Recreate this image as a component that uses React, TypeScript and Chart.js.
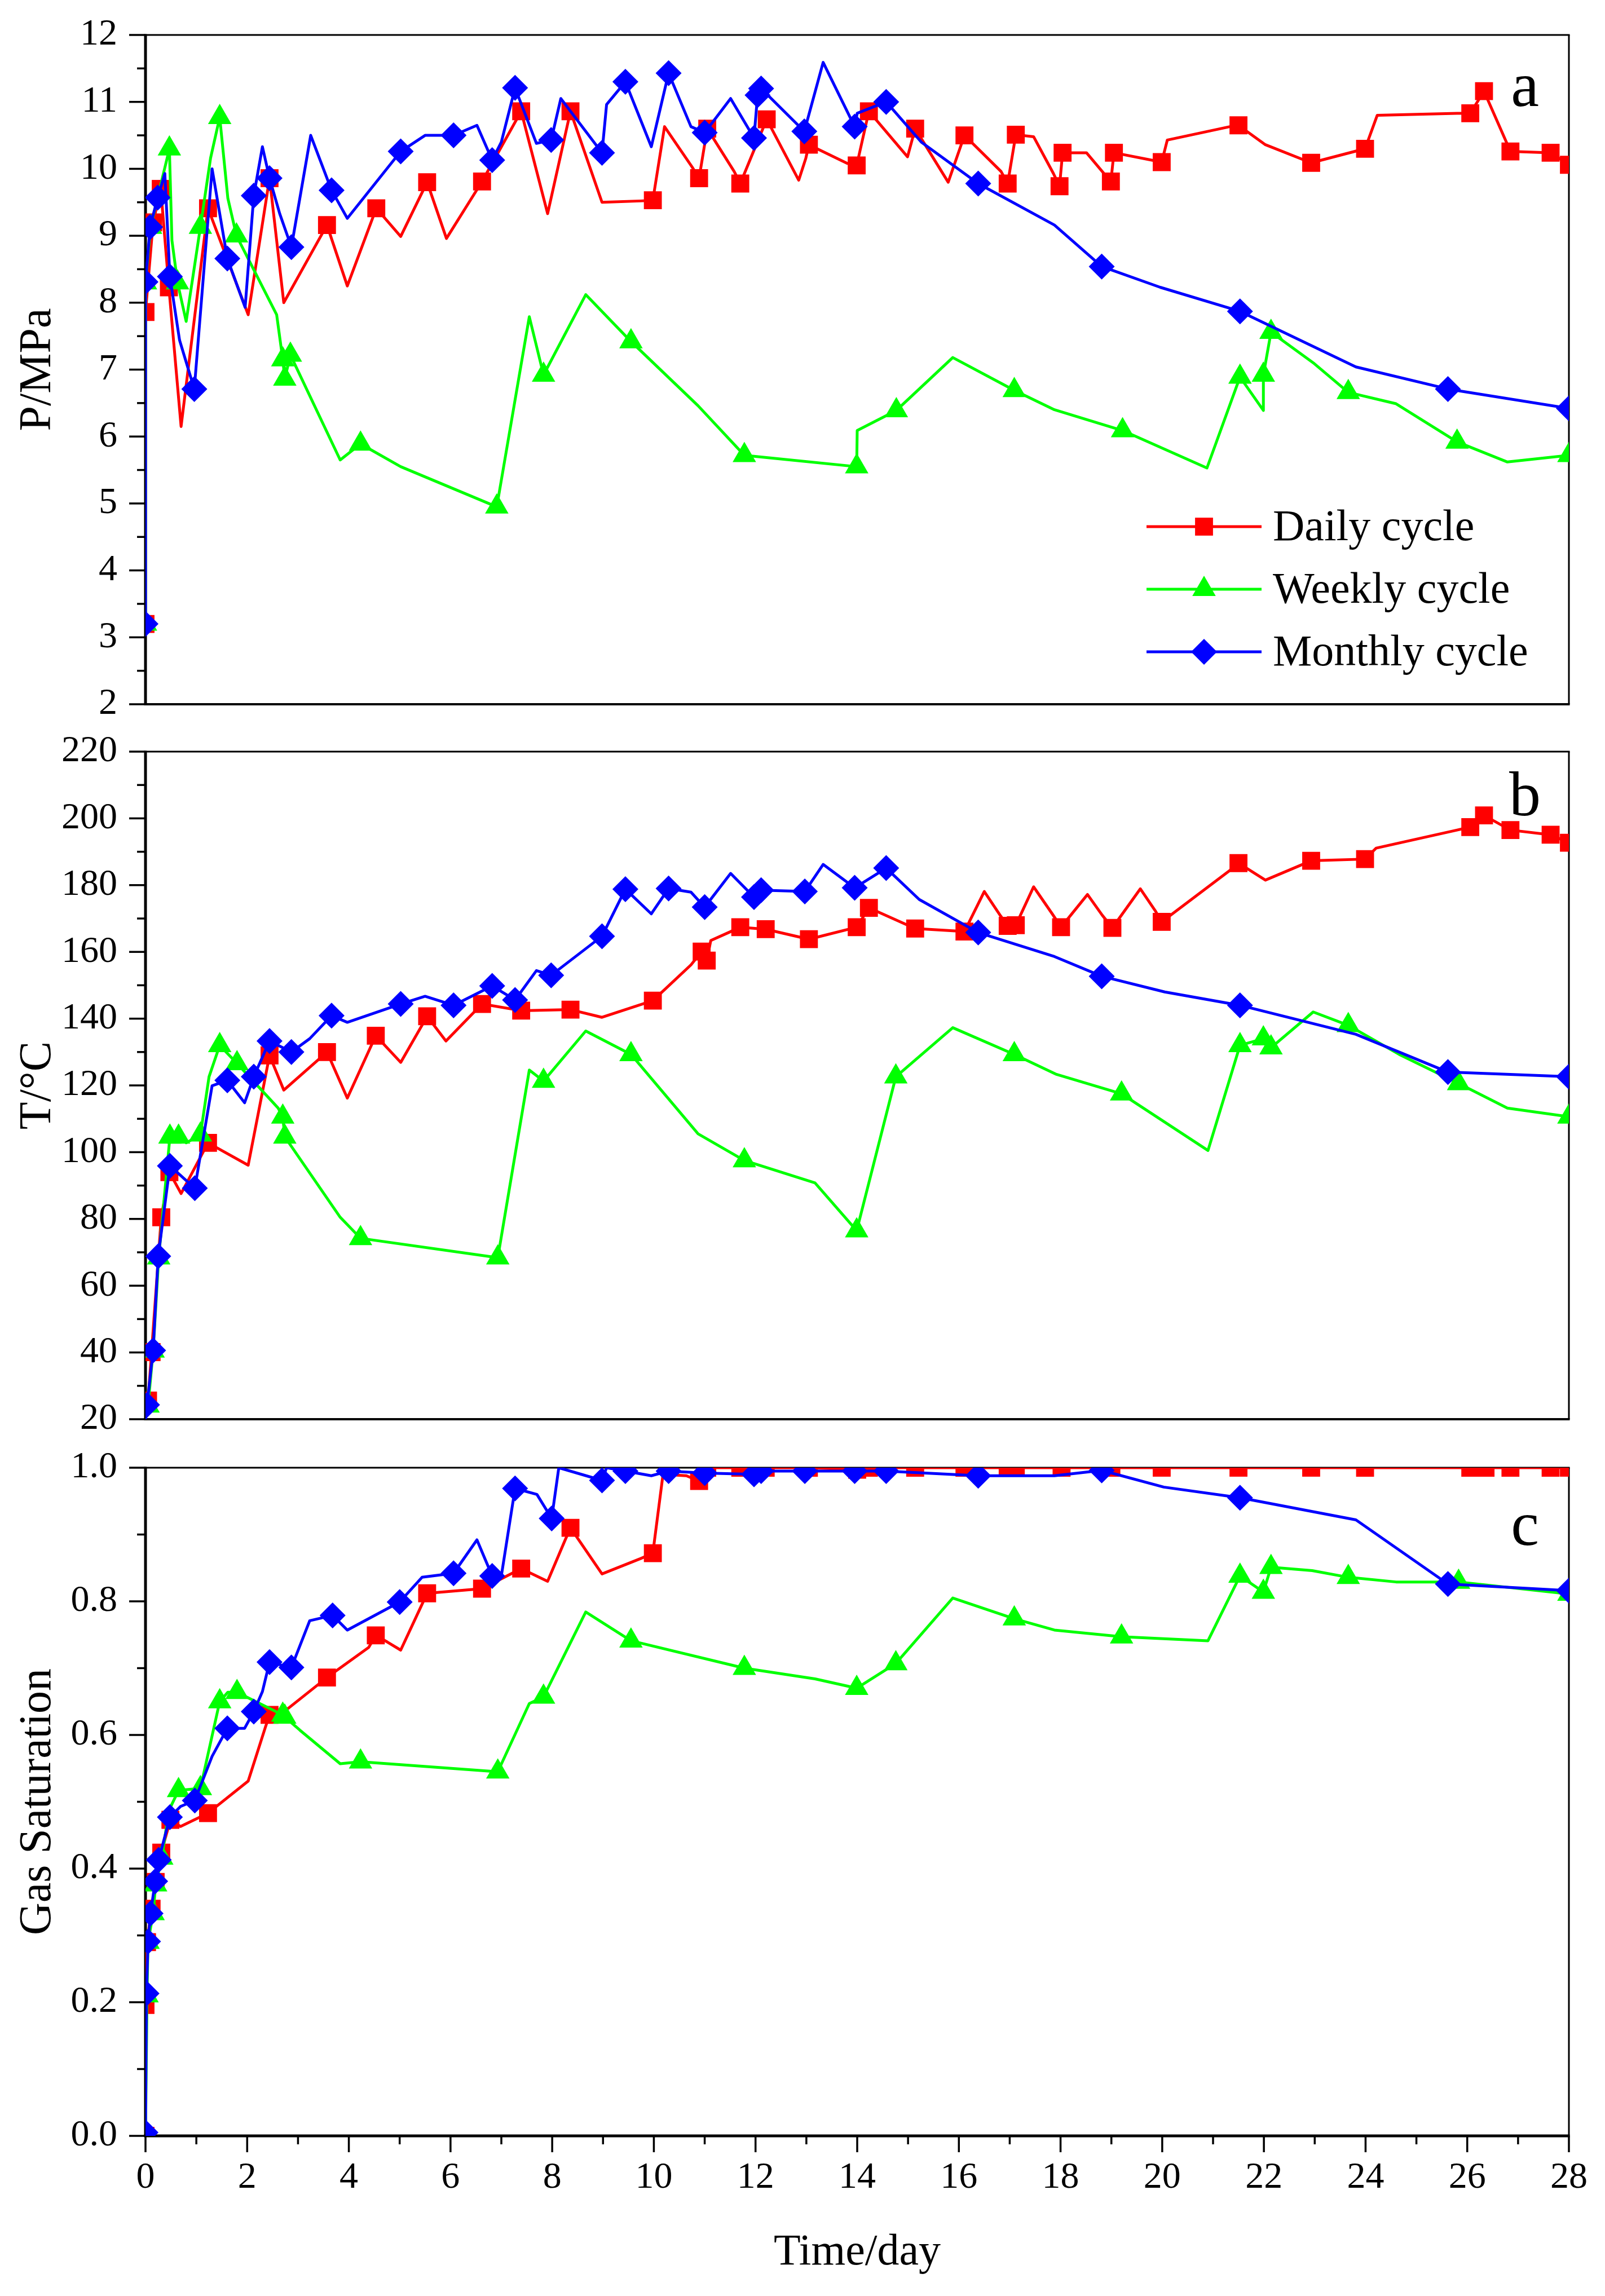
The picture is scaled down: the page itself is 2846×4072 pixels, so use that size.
import React, { useEffect, useRef } from 'react';
import Chart from 'chart.js/auto';

type Pt = [number, number];

// ---- axis ticks ----
const dayTicks = [0, 2, 4, 6, 8, 10, 12, 14, 16, 18, 20, 22, 24, 26, 28];
const pressureTicks = [2, 3, 4, 5, 6, 7, 8, 9, 10, 11, 12];
const tempTicks = [20, 40, 60, 80, 100, 120, 140, 160, 180, 200, 220];
const saturationTicks = [0, 0.2, 0.4, 0.6, 0.8, 1.0];

const seriesNames = ['Daily cycle', 'Weekly cycle', 'Monthly cycle'];

// ---- panel a: pressure (MPa) ----
const pDailyLine: Pt[] = [[0, 3.2], [0, 7.86], [0.15, 9.2], [0.3, 9.7], [0.46, 8.23], [0.7, 6.15], [1.23, 9.41], [2.02, 7.82], [2.44, 9.86], [2.72, 8.0], [3.57, 9.16], [3.97, 8.25], [4.54, 9.41], [5.02, 8.99], [5.54, 9.8], [5.92, 8.96], [6.62, 9.81], [7.39, 10.86], [7.91, 9.33], [8.36, 10.86], [8.98, 9.5], [9.74, 9.52], [9.98, 9.53], [10.21, 10.63], [10.75, 10.03], [10.89, 9.86], [11.05, 10.6], [11.58, 9.96], [11.7, 9.78], [12.22, 10.74], [12.85, 9.83], [12.99, 10.16], [13.05, 10.36], [13.81, 10.08], [13.99, 10.05], [14.23, 10.86], [14.99, 10.18], [15.14, 10.6], [15.79, 9.8], [16.11, 10.5], [16.83, 9.96], [16.96, 9.78], [17.12, 10.51], [17.47, 10.48], [17.86, 9.93], [17.98, 9.74], [18.04, 10.24], [18.51, 10.24], [18.82, 9.96], [18.99, 9.81], [19.05, 10.24], [19.99, 10.1], [20.1, 10.43], [21.33, 10.63], [21.5, 10.65], [22.03, 10.36], [22.93, 10.09], [23.99, 10.3], [24.23, 10.8], [25.8, 10.83], [26.06, 10.83], [26.33, 11.16], [26.85, 10.26], [27.64, 10.24], [28, 10.06]];
const pDailyMarks: Pt[] = [[0, 3.2], [0, 7.86], [0.15, 9.2], [0.3, 9.7], [0.46, 8.23], [1.23, 9.41], [2.44, 9.86], [3.57, 9.16], [4.54, 9.41], [5.54, 9.8], [6.62, 9.81], [7.39, 10.86], [8.36, 10.86], [9.98, 9.53], [10.89, 9.86], [11.05, 10.6], [11.7, 9.78], [12.22, 10.74], [13.05, 10.36], [13.99, 10.05], [14.23, 10.86], [15.14, 10.6], [16.11, 10.5], [16.96, 9.78], [17.12, 10.51], [17.98, 9.74], [18.04, 10.24], [18.99, 9.81], [19.05, 10.24], [19.99, 10.1], [21.5, 10.65], [22.93, 10.09], [23.99, 10.3], [26.06, 10.83], [26.33, 11.16], [26.85, 10.26], [27.64, 10.24], [28, 10.06]];

const pWeeklyLine: Pt[] = [[0, 3.2], [0, 8.3], [0.1, 9.13], [0.47, 10.3], [0.52, 8.93], [0.63, 8.3], [0.8, 7.72], [1.08, 9.13], [1.28, 10.16], [1.46, 10.77], [1.62, 9.56], [1.79, 9.0], [2.58, 7.82], [2.7, 7.15], [2.74, 6.86], [2.85, 7.22], [3.83, 5.65], [4.23, 5.89], [5.02, 5.55], [6.91, 4.95], [7.55, 7.79], [7.83, 6.92], [8.66, 8.12], [9.55, 7.42], [10.87, 6.46], [11.78, 5.72], [13.99, 5.55], [14.0, 6.09], [14.77, 6.39], [15.88, 7.18], [17.09, 6.69], [17.88, 6.4], [19.22, 6.09], [20.88, 5.53], [21.53, 6.89], [21.99, 6.39], [21.99, 6.92], [22.14, 7.56], [22.99, 7.09], [23.66, 6.66], [24.6, 6.49], [25.8, 5.92], [26.79, 5.62], [28, 5.72]];
const pWeeklyMarks: Pt[] = [[0, 3.2], [0, 8.3], [0.1, 9.13], [0.47, 10.3], [0.63, 8.3], [1.08, 9.13], [1.46, 10.77], [1.79, 9.0], [2.7, 7.15], [2.74, 6.86], [2.85, 7.22], [4.23, 5.89], [6.91, 4.95], [7.83, 6.92], [9.55, 7.42], [11.78, 5.72], [13.99, 5.55], [14.77, 6.39], [17.09, 6.69], [19.22, 6.09], [21.53, 6.89], [21.99, 6.92], [22.14, 7.56], [23.66, 6.66], [25.8, 5.92], [28, 5.72]];

const pMonthlyLine: Pt[] = [[0, 3.2], [0, 8.31], [0.09, 9.13], [0.24, 9.57], [0.38, 9.93], [0.48, 8.39], [0.67, 7.44], [0.96, 6.71], [1.31, 10.0], [1.61, 8.66], [1.96, 7.93], [2.13, 9.6], [2.3, 10.33], [2.44, 9.86], [2.64, 9.33], [2.87, 8.83], [3.25, 10.5], [3.66, 9.68], [3.97, 9.26], [5.02, 10.26], [5.5, 10.5], [6.06, 10.5], [6.52, 10.65], [6.82, 10.13], [7.0, 10.4], [7.27, 11.21], [7.69, 10.38], [7.98, 10.43], [8.17, 11.05], [8.98, 10.24], [9.07, 10.96], [9.44, 11.3], [9.95, 10.33], [10.29, 11.43], [10.73, 10.63], [11.0, 10.54], [11.51, 11.05], [11.97, 10.46], [12.04, 11.1], [12.11, 11.2], [12.96, 10.56], [13.33, 11.59], [13.95, 10.63], [14.0, 10.83], [14.57, 11.0], [15.26, 10.4], [16.38, 9.78], [17.88, 9.16], [18.81, 8.54], [19.96, 8.23], [21.53, 7.87], [23.81, 7.04], [25.62, 6.71], [28, 6.42]];
const pMonthlyMarks: Pt[] = [[0, 3.2], [0, 8.31], [0.09, 9.13], [0.24, 9.57], [0.48, 8.39], [0.96, 6.71], [1.61, 8.66], [2.13, 9.6], [2.44, 9.86], [2.87, 8.83], [3.66, 9.68], [5.02, 10.26], [6.06, 10.5], [6.82, 10.13], [7.27, 11.21], [7.98, 10.43], [8.98, 10.24], [9.44, 11.3], [10.29, 11.43], [11.0, 10.54], [11.97, 10.46], [12.04, 11.1], [12.11, 11.2], [12.96, 10.56], [13.95, 10.63], [14.57, 11.0], [16.38, 9.78], [18.81, 8.54], [21.53, 7.87], [25.62, 6.71], [28, 6.42]];

// ---- panel b: temperature (°C) ----
const tDailyLine: Pt[] = [[0, 22], [0.05, 25.6], [0.12, 40.1], [0.31, 80.5], [0.47, 94], [0.7, 87.6], [1.23, 102.8], [2.02, 96.1], [2.44, 129], [2.72, 118.6], [3.57, 130], [3.97, 116.2], [4.53, 134.9], [5.02, 126.9], [5.54, 140.7], [5.91, 133.3], [6.62, 144.4], [7.39, 142.4], [8.36, 142.7], [8.98, 140.4], [9.98, 145.4], [10.73, 156.1], [10.94, 160.1], [11.04, 157.4], [11.12, 163.4], [11.47, 165.8], [11.7, 167.4], [12.2, 166.8], [13.05, 163.8], [13.99, 167.4], [14.23, 173.2], [15.14, 167], [16.11, 166.1], [16.5, 178.1], [16.82, 170.8], [16.96, 167.8], [17.12, 168], [17.47, 179.5], [17.85, 171.1], [18.01, 167.4], [18.53, 177.2], [18.82, 171], [19.02, 167.2], [19.57, 178.9], [19.86, 172.4], [19.99, 169], [21.33, 184.4], [21.5, 186.6], [22.03, 181.5], [22.93, 187.3], [23.99, 187.8], [24.21, 191.1], [25.8, 196.5], [26.06, 197.4], [26.33, 200.9], [26.85, 196.5], [27.64, 195.1], [28, 192.7]];
const tDailyMarks: Pt[] = [[0.05, 25.6], [0.12, 40.1], [0.31, 80.5], [0.47, 94], [1.23, 102.8], [2.44, 129], [3.57, 130], [4.53, 134.9], [5.54, 140.7], [6.62, 144.4], [7.39, 142.4], [8.36, 142.7], [9.98, 145.4], [10.94, 160.1], [11.04, 157.4], [11.7, 167.4], [12.2, 166.8], [13.05, 163.8], [13.99, 167.4], [14.23, 173.2], [15.14, 167], [16.11, 166.1], [16.96, 167.8], [17.12, 168], [18.01, 167.4], [19.02, 167.2], [19.99, 169], [21.5, 186.6], [22.93, 187.3], [23.99, 187.8], [26.06, 197.4], [26.33, 200.9], [26.85, 196.5], [27.64, 195.1], [28, 192.7]];

const tWeeklyLine: Pt[] = [[0, 22], [0.05, 24], [0.15, 40.5], [0.26, 68.4], [0.48, 104.6], [0.65, 104.6], [0.8, 102.8], [1.08, 105.2], [1.25, 122.6], [1.46, 132], [1.8, 126.6], [2.61, 113.2], [2.7, 110.6], [2.74, 104.6], [3.83, 80.5], [4.23, 74.2], [6.93, 68.4], [7.55, 124.6], [7.83, 121.3], [8.66, 136.3], [9.55, 129.3], [10.87, 105.5], [11.78, 97.5], [13.17, 90.8], [13.99, 76.5], [14.76, 122.6], [15.88, 137.3], [17.09, 129.3], [17.92, 123.3], [19.2, 117.5], [20.9, 100.5], [21.53, 132], [21.99, 134], [22.14, 131.3], [22.97, 142], [23.66, 138], [24.66, 129.3], [25.83, 120.6], [26.79, 113.2], [28, 110.6]];
const tWeeklyMarks: Pt[] = [[0.05, 24], [0.15, 40.5], [0.26, 68.4], [0.48, 104.6], [0.65, 104.6], [1.08, 105.2], [1.46, 132], [1.8, 126.6], [2.7, 110.6], [2.74, 104.6], [4.23, 74.2], [6.93, 68.4], [7.83, 121.3], [9.55, 129.3], [11.78, 97.5], [13.99, 76.5], [14.76, 122.6], [17.09, 129.3], [19.2, 117.5], [21.53, 132], [21.99, 134], [22.14, 131.3], [23.66, 138], [25.83, 120.6], [28, 110.6]];

const tMonthlyLine: Pt[] = [[0, 20], [0.03, 24.3], [0.15, 40.6], [0.25, 68.8], [0.48, 95.9], [0.97, 89.2], [1.31, 119.9], [1.61, 121.5], [1.95, 114.8], [2.13, 122.6], [2.44, 133.3], [2.87, 130], [3.23, 134], [3.66, 140.9], [3.97, 138.9], [5.02, 144.4], [5.5, 146.7], [6.06, 144], [6.82, 149.8], [7.27, 145.6], [7.69, 154.4], [7.98, 153], [8.98, 164.7], [9.44, 178.8], [9.95, 171.4], [10.29, 179], [10.73, 177.9], [11.0, 173.4], [11.51, 183.5], [11.97, 176.4], [12.11, 178.5], [12.97, 178.1], [13.33, 186.2], [13.95, 179.2], [14.57, 185.1], [15.22, 175.7], [16.38, 165.8], [17.88, 158.6], [18.81, 152.7], [20.05, 148], [21.53, 144], [23.81, 135.3], [25.62, 124], [28, 122.6]];
const tMonthlyMarks: Pt[] = [[0.03, 24.3], [0.15, 40.6], [0.25, 68.8], [0.48, 95.9], [0.97, 89.2], [1.61, 121.5], [2.13, 122.6], [2.44, 133.3], [2.87, 130], [3.66, 140.9], [5.02, 144.4], [6.06, 144], [6.82, 149.8], [7.27, 145.6], [7.98, 153], [8.98, 164.7], [9.44, 178.8], [10.29, 179], [11.0, 173.4], [11.97, 176.4], [12.11, 178.5], [12.97, 178.1], [13.95, 179.2], [14.57, 185.1], [16.38, 165.8], [18.81, 152.7], [21.53, 144], [25.62, 124], [28, 122.6]];

// ---- panel c: gas saturation ----
const sDailyLine: Pt[] = [[0, 0], [0, 0.196], [0.03, 0.29], [0.12, 0.34], [0.2, 0.38], [0.31, 0.424], [0.49, 0.473], [0.69, 0.463], [1.23, 0.483], [2.02, 0.531], [2.36, 0.612], [2.44, 0.63], [2.81, 0.64], [3.57, 0.686], [4.39, 0.731], [4.53, 0.749], [4.76, 0.739], [5.02, 0.727], [5.43, 0.794], [5.54, 0.812], [6.62, 0.819], [7.39, 0.849], [7.91, 0.83], [8.25, 0.891], [8.36, 0.91], [8.98, 0.841], [9.74, 0.864], [9.98, 0.872], [10.18, 0.99], [10.64, 0.988], [10.89, 0.98], [11.05, 1], [11.7, 1], [12.2, 1], [13.05, 1], [14, 0.997], [14.23, 1], [15.14, 1], [16.11, 1], [16.96, 1], [17.12, 1], [18.02, 1], [19, 1], [19.99, 1], [21.5, 1], [22.93, 1], [23.99, 1], [26.06, 1], [26.36, 1], [26.85, 1], [27.64, 1], [28, 1]];
const sDailyMarks: Pt[] = [[0, 0], [0, 0.196], [0.03, 0.29], [0.12, 0.34], [0.2, 0.38], [0.31, 0.424], [0.49, 0.473], [1.23, 0.483], [2.44, 0.63], [3.57, 0.686], [4.53, 0.749], [5.54, 0.812], [6.62, 0.819], [7.39, 0.849], [8.36, 0.91], [9.98, 0.872], [10.89, 0.98], [11.05, 1], [11.7, 1], [12.2, 1], [13.05, 1], [14, 0.997], [14.23, 1], [15.14, 1], [16.11, 1], [16.96, 1], [17.12, 1], [18.02, 1], [19, 1], [19.99, 1], [21.5, 1], [22.93, 1], [23.99, 1], [26.06, 1], [26.36, 1], [26.85, 1], [27.64, 1], [28, 1]];

const sWeeklyLine: Pt[] = [[0, 0], [0.03, 0.21], [0.05, 0.29], [0.15, 0.333], [0.2, 0.376], [0.32, 0.416], [0.46, 0.487], [0.65, 0.517], [1.08, 0.52], [1.46, 0.65], [1.62, 0.664], [1.8, 0.664], [2.7, 0.63], [2.74, 0.627], [3.04, 0.607], [3.83, 0.557], [4.23, 0.56], [6.93, 0.545], [7.55, 0.647], [7.83, 0.657], [8.66, 0.784], [9.55, 0.741], [11.78, 0.7], [13.17, 0.684], [13.99, 0.67], [14.76, 0.707], [15.88, 0.805], [17.09, 0.774], [17.88, 0.757], [19.2, 0.747], [20.9, 0.741], [21.53, 0.838], [21.99, 0.814], [22.14, 0.851], [22.95, 0.846], [23.66, 0.836], [24.6, 0.829], [25.83, 0.829], [28, 0.811]];
const sWeeklyMarks: Pt[] = [[0, 0], [0.03, 0.21], [0.05, 0.29], [0.15, 0.333], [0.2, 0.376], [0.32, 0.416], [0.65, 0.517], [1.08, 0.52], [1.46, 0.65], [1.8, 0.664], [2.7, 0.63], [2.74, 0.627], [4.23, 0.56], [6.93, 0.545], [7.83, 0.657], [9.55, 0.741], [11.78, 0.7], [13.99, 0.67], [14.76, 0.707], [17.09, 0.774], [19.2, 0.747], [21.53, 0.838], [21.99, 0.814], [22.14, 0.851], [23.66, 0.836], [25.83, 0.829], [28, 0.811]];

const sMonthlyLine: Pt[] = [[0, 0.005], [0.02, 0.213], [0.05, 0.291], [0.1, 0.333], [0.19, 0.381], [0.26, 0.413], [0.48, 0.477], [0.69, 0.493], [0.97, 0.502], [1.31, 0.568], [1.61, 0.61], [1.95, 0.61], [2.13, 0.635], [2.3, 0.665], [2.44, 0.709], [2.87, 0.701], [3.23, 0.771], [3.68, 0.779], [3.97, 0.757], [5.0, 0.799], [5.44, 0.836], [6.06, 0.842], [6.52, 0.892], [6.82, 0.838], [7.0, 0.838], [7.27, 0.969], [7.7, 0.96], [7.99, 0.924], [8.13, 1], [8.98, 0.981], [9.07, 1], [9.44, 0.995], [9.95, 0.988], [10.29, 0.995], [11.0, 0.992], [11.97, 0.99], [12.11, 0.995], [12.97, 0.995], [13.95, 0.995], [14.57, 0.995], [16.38, 0.988], [17.88, 0.988], [18.81, 0.996], [20.03, 0.971], [21.53, 0.955], [23.81, 0.922], [25.62, 0.826], [28, 0.816]];
const sMonthlyMarks: Pt[] = [[0, 0.005], [0.02, 0.213], [0.05, 0.291], [0.1, 0.333], [0.19, 0.381], [0.26, 0.413], [0.48, 0.477], [0.97, 0.502], [1.61, 0.61], [2.13, 0.635], [2.44, 0.709], [2.87, 0.701], [3.68, 0.779], [5.0, 0.799], [6.06, 0.842], [6.82, 0.838], [7.27, 0.969], [7.99, 0.924], [8.98, 0.981], [9.44, 0.995], [10.29, 0.995], [11.0, 0.992], [11.97, 0.99], [12.11, 0.995], [12.97, 0.995], [13.95, 0.995], [14.57, 0.995], [16.38, 0.988], [18.81, 0.996], [21.53, 0.955], [25.62, 0.826], [28, 0.816]];

const SERIF = '"Liberation Serif", "DejaVu Serif", serif';
const COLORS = ['#ff0000', '#00ff00', '#0000ff'];
const STYLES = ['rect', 'triangle', 'rectRot'];
const RADIUS: Record<string, number> = { rect: 22.5, triangle: 24, rectRot: 23 };
const LINE_W = 5;

function drawMarker(ctx: CanvasRenderingContext2D, style: string, x: number, y: number, r: number) {
    ctx.beginPath();
    if (style === 'rect') {
        const s = r * Math.SQRT1_2;
        ctx.rect(x - s, y - s, 2 * s, 2 * s);
    } else if (style === 'triangle') {
        ctx.moveTo(x, y - r);
        ctx.lineTo(x + r * 0.866, y + r / 2);
        ctx.lineTo(x - r * 0.866, y + r / 2);
        ctx.closePath();
    } else {
        ctx.moveTo(x - r, y);
        ctx.lineTo(x, y - r);
        ctx.lineTo(x + r, y);
        ctx.lineTo(x, y + r);
        ctx.closePath();
    }
    ctx.fill();
}

interface PanelProps {
    top: number;
    height: number;
    padTop: number;
    padBottom: number;
    yTicks: number[];
    decimals: number;
    yTitle: string;
    letter: string;
    letterDrop: number;
    lines: Pt[][];
    marks: Pt[][];
    showX?: boolean;
    showLegend?: boolean;
}

const Panel: React.FC<PanelProps> = ({ top, height, padTop, padBottom, yTicks, decimals, yTitle, letter, letterDrop, lines, marks, showX = false, showLegend = false }) => {
    const canvasRef = useRef<HTMLCanvasElement | null>(null);

    useEffect(() => {
        const canvas = canvasRef.current;
        if (!canvas) return;

        const datasets: any[] = [];
        lines.forEach((line, i) => {
            const rank = lines.length - 1 - i; // monthly drawn on top
            datasets.push({
                label: seriesNames[i],
                data: line.map(([x, y]) => ({ x, y })),
                borderColor: COLORS[i],
                borderWidth: LINE_W,
                borderJoinStyle: 'round',
                pointRadius: 0,
                pointHoverRadius: 0,
                tension: 0,
                fill: false,
                clip: 0,
                order: rank * 2 + 1,
            });
            datasets.push({
                label: seriesNames[i] + ' points',
                data: marks[i].map(([x, y]) => ({ x, y })),
                showLine: false,
                pointStyle: STYLES[i],
                pointRadius: RADIUS[STYLES[i]],
                pointHoverRadius: RADIUS[STYLES[i]],
                pointBackgroundColor: COLORS[i],
                pointBorderWidth: 0,
                clip: 0,
                order: rank * 2,
            });
        });

        const frame = {
            id: 'frame',
            beforeDatasetsDraw(chart: any) {
                const { ctx, chartArea } = chart;
                const { left, right, top: t, bottom } = chartArea;
                const ys = chart.scales.y;
                const xs = chart.scales.x;
                const seg = (x1: number, y1: number, x2: number, y2: number, w: number) => {
                    ctx.lineWidth = w;
                    ctx.beginPath();
                    ctx.moveTo(x1, y1);
                    ctx.lineTo(x2, y2);
                    ctx.stroke();
                };
                ctx.save();
                ctx.strokeStyle = '#000';
                seg(left, t, right + 1.5, t, 3);
                seg(right, t, right, bottom, 3);
                seg(left - 2.5, bottom, right + 1.5, bottom, showX ? 5 : 4);
                seg(left, t - 1.5, left, bottom + 2, 5);
                yTicks.forEach((v, i) => {
                    const py = ys.getPixelForValue(v);
                    seg(left - 29, py, left, py, 3.5);
                    if (i < yTicks.length - 1) {
                        const pm = ys.getPixelForValue((v + yTicks[i + 1]) / 2);
                        seg(left - 15, pm, left, pm, 3.5);
                    }
                });
                if (showX) {
                    dayTicks.forEach((v, i) => {
                        const px = xs.getPixelForValue(v);
                        seg(px, bottom, px, bottom + 29, 3.5);
                        if (i < dayTicks.length - 1) {
                            const pm = xs.getPixelForValue((v + dayTicks[i + 1]) / 2);
                            seg(pm, bottom, pm, bottom + 15, 3.5);
                        }
                    });
                }
                ctx.restore();
            },
        };

        const overlay = {
            id: 'overlay',
            afterDatasetsDraw(chart: any) {
                const { ctx, chartArea } = chart;
                ctx.save();
                ctx.fillStyle = '#000';
                ctx.font = `112px ${SERIF}`;
                ctx.textAlign = 'center';
                ctx.textBaseline = 'alphabetic';
                ctx.fillText(letter, chartArea.right - 78, chartArea.top + letterDrop);
                if (showLegend) {
                    const rows = [872, 983, 1094];
                    seriesNames.forEach((name, i) => {
                        const y = chartArea.top + rows[i];
                        ctx.strokeStyle = COLORS[i];
                        ctx.lineWidth = LINE_W;
                        ctx.beginPath();
                        ctx.moveTo(chartArea.right - 749, y);
                        ctx.lineTo(chartArea.right - 545, y);
                        ctx.stroke();
                        ctx.fillStyle = COLORS[i];
                        drawMarker(ctx, STYLES[i], chartArea.right - 647, y, RADIUS[STYLES[i]]);
                        ctx.fillStyle = '#000';
                        ctx.font = `78px ${SERIF}`;
                        ctx.textAlign = 'left';
                        ctx.textBaseline = 'middle';
                        ctx.fillText(name, chartArea.right - 525, y + 4);
                    });
                }
                ctx.restore();
            },
        };

        const chart = new Chart(canvas, {
            type: 'line',
            data: { datasets },
            options: {
                responsive: false,
                animation: false,
                devicePixelRatio: 1,
                events: [],
                layout: { padding: { top: padTop, bottom: padBottom, left: 0, right: 64 } },
                plugins: {
                    legend: { display: false },
                    tooltip: { enabled: false },
                },
                scales: {
                    x: {
                        type: 'linear',
                        min: dayTicks[0],
                        max: dayTicks[dayTicks.length - 1],
                        display: showX,
                        afterBuildTicks: (axis: any) => {
                            axis.ticks = dayTicks.map((v) => ({ value: v }));
                        },
                        afterFit: (axis: any) => {
                            axis.height = showX ? 284 : 0;
                            axis.paddingLeft = 0;
                            axis.paddingRight = 0;
                        },
                        grid: { display: false, drawTicks: false },
                        border: { display: false },
                        ticks: {
                            color: '#000',
                            padding: 35,
                            maxRotation: 0,
                            autoSkip: false,
                            font: { family: SERIF, size: 66 },
                        },
                        title: {
                            display: true,
                            text: 'Time/day',
                            color: '#000',
                            font: { family: SERIF, size: 78 },
                            padding: { top: 0, bottom: 30 },
                        },
                    },
                    y: {
                        type: 'linear',
                        min: yTicks[0],
                        max: yTicks[yTicks.length - 1],
                        afterBuildTicks: (axis: any) => {
                            axis.ticks = yTicks.map((v) => ({ value: v }));
                        },
                        afterFit: (axis: any) => {
                            axis.width = 258;
                            axis.paddingTop = 0;
                            axis.paddingBottom = 0;
                        },
                        grid: { display: false, drawTicks: false },
                        border: { display: false },
                        ticks: {
                            color: '#000',
                            padding: 50,
                            autoSkip: false,
                            font: { family: SERIF, size: 66 },
                            callback: (v: any) => Number(v).toFixed(decimals),
                        },
                        title: {
                            display: true,
                            text: yTitle,
                            color: '#000',
                            font: { family: SERIF, size: 80 },
                            padding: { top: 20, bottom: 0 },
                        },
                    },
                },
            } as any,
            plugins: [frame, overlay],
        });

        return () => {
            chart.destroy();
        };
    }, []);

    return (
        <canvas
            ref={canvasRef}
            width={2846}
            height={height}
            style={{ position: 'absolute', left: 0, top, width: 2846, height }}
        />
    );
};

const App: React.FC = () => {
    return (
        <div style={{ position: 'absolute', left: 0, top: 0, width: 2846, height: 4072, background: '#fff' }}>
            <Panel
                top={0}
                height={1300}
                padTop={62}
                padBottom={51}
                yTicks={pressureTicks}
                decimals={0}
                yTitle="P/MPa"
                letter="a"
                letterDrop={126}
                lines={[pDailyLine, pWeeklyLine, pMonthlyLine]}
                marks={[pDailyMarks, pWeeklyMarks, pMonthlyMarks]}
                showLegend
            />
            <Panel
                top={1290}
                height={1270}
                padTop={43}
                padBottom={43}
                yTicks={tempTicks}
                decimals={0}
                yTitle="T/°C"
                letter="b"
                letterDrop={113}
                lines={[tDailyLine, tWeeklyLine, tMonthlyLine]}
                marks={[tDailyMarks, tWeeklyMarks, tMonthlyMarks]}
            />
            <Panel
                top={2560}
                height={1512}
                padTop={43}
                padBottom={0}
                yTicks={saturationTicks}
                decimals={1}
                yTitle="Gas Saturation"
                letter="c"
                letterDrop={137}
                lines={[sDailyLine, sWeeklyLine, sMonthlyLine]}
                marks={[sDailyMarks, sWeeklyMarks, sMonthlyMarks]}
                showX
            />
        </div>
    );
};

export default App;
